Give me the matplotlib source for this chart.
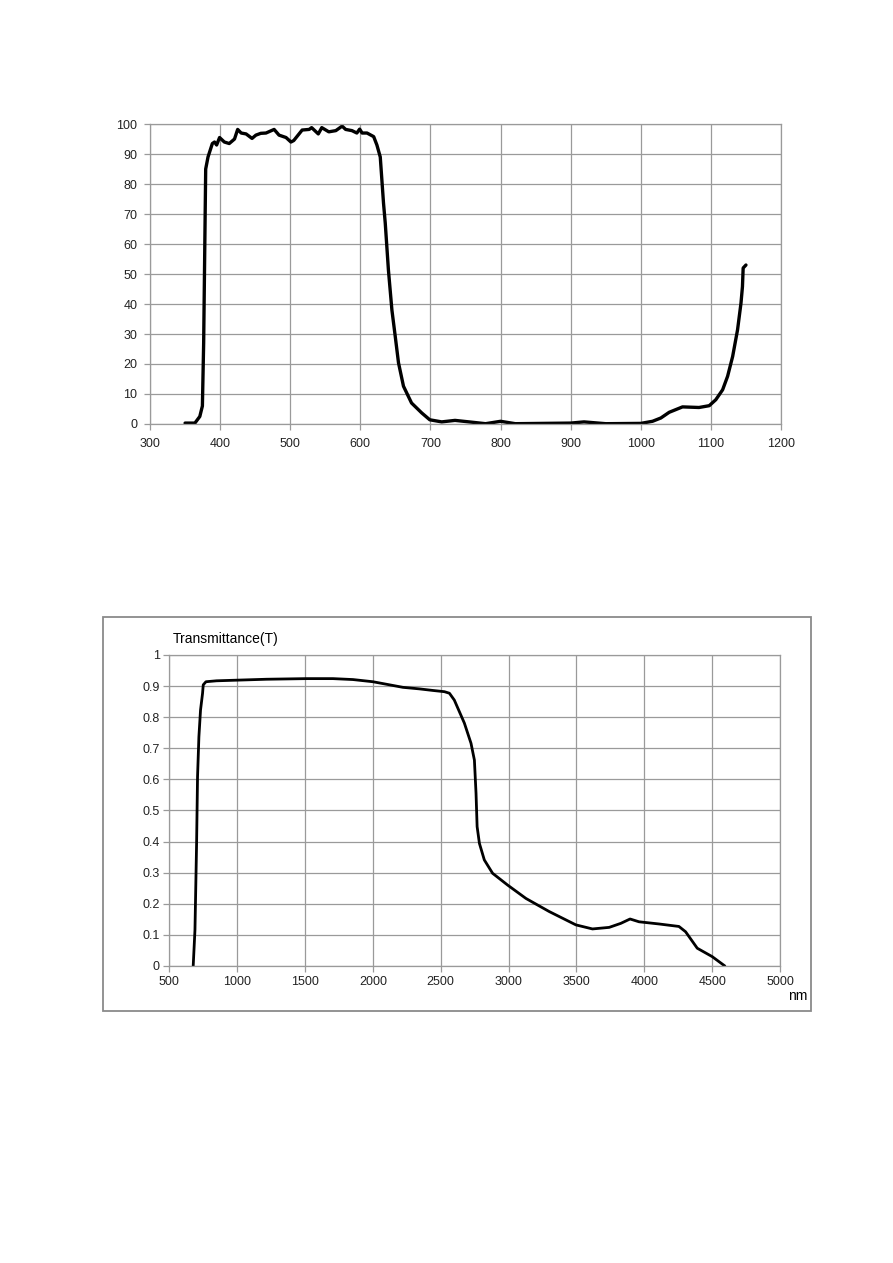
import matplotlib
matplotlib.use("Agg")
import matplotlib.pyplot as plt
from matplotlib.patches import Rectangle
from matplotlib.ticker import FuncFormatter

plt.rcParams['font.family'] = ['Liberation Sans', 'DejaVu Sans']

# top chart: visible band filter, transmittance in %
vis_nm = [350, 364, 371, 374.7, 376.5, 379.4, 382.7, 388.9, 392, 395, 399.2, 406, 413,
          420.5, 425, 430, 437, 445.5, 451, 458, 465.4, 477, 484, 494, 501, 505, 517,
          527, 530.5, 540, 545, 555, 565, 574, 579, 588, 595, 599, 602.5, 609.5, 619,
          623.6, 628.4, 633, 635.5, 640, 645, 649.7, 654.4, 661.5, 673, 687.5, 699, 716,
          735, 759, 778.6, 800, 821, 860, 900, 919, 950, 1000, 1016.7, 1028.6, 1040.5,
          1059.5, 1083, 1097.6, 1107, 1116.7, 1123.8, 1131, 1138, 1142.9, 1145, 1146, 1150]
vis_t = [0.3, 0.3, 2.5, 6, 27, 85, 89, 93.5, 94, 93, 95.5, 94, 93.5,
         95, 98.2, 97, 96.7, 95.2, 96.3, 96.9, 97, 98.2, 96.3, 95.5, 94, 94.5, 98,
         98.2, 98.8, 96.7, 98.8, 97.4, 97.8, 99.3, 98.2, 97.8, 97, 98.3, 97, 97, 95.8,
         93, 89, 73.7, 67, 51.4, 38, 29.3, 20.4, 12.6, 7, 3.7, 1.4, 0.7,
         1.2, 0.6, 0.1, 0.9, 0.1, 0.2, 0.3, 0.7, 0.1, 0.2, 0.9, 2, 3.9,
         5.7, 5.5, 6.1, 8.1, 11.4, 15.9, 22.5, 31.4, 40.3, 45.8, 52, 53]

# bottom chart: IR window, transmittance as fraction
ir_nm = [676, 689, 701, 708, 718, 730, 745, 750, 770, 848, 995, 1216, 1510, 1706, 1853,
         2000, 2123, 2221, 2343, 2441, 2527, 2564, 2600, 2640, 2674, 2723, 2748, 2760,
         2768, 2785, 2821, 2882, 2993, 3128, 3299, 3496, 3618, 3741, 3827, 3895, 3961,
         4108, 4255, 4304, 4390, 4500, 4593]
ir_t = [0, 0.116, 0.394, 0.609, 0.737, 0.823, 0.877, 0.904, 0.914, 0.917, 0.919, 0.922,
        0.924, 0.924, 0.921, 0.914, 0.904, 0.896, 0.891, 0.886, 0.882, 0.877, 0.855,
        0.815, 0.781, 0.716, 0.662, 0.555, 0.448, 0.394, 0.341, 0.298, 0.260, 0.217,
        0.175, 0.132, 0.119, 0.124, 0.137, 0.151, 0.142, 0.135, 0.127, 0.110, 0.057,
        0.030, 0]

grid_col = '#9a9a9a'

fig = plt.figure(figsize=(8.93, 12.63), dpi=100)


def style_axes(ax, fs):
    for s in ax.spines.values():
        s.set_color(grid_col)
        s.set_linewidth(0.9)
    ax.grid(True, color=grid_col, linewidth=0.9)
    ax.set_axisbelow(True)
    ax.tick_params(length=4, width=0.9, color=grid_col, labelsize=fs,
                   labelcolor='#222222', pad=3)


# top
ax1 = fig.add_axes([0.168, 0.6643, 0.7066, 0.2375])
ax1.plot(vis_nm, vis_t, color='black', lw=2.4, solid_capstyle='round')
ax1.set_xlim(300, 1200)
ax1.set_ylim(0, 100)
ax1.set_xticks(range(300, 1201, 100))
ax1.set_yticks(range(0, 101, 10))
style_axes(ax1, 9)
ax1.tick_params(axis='x', pad=6)
ax1.tick_params(axis='y', pad=5)

# bottom, with outer frame
fig.patches.append(Rectangle((0.1153, 0.1995), 0.7929, 0.312, transform=fig.transFigure,
                             fill=False, edgecolor='#8a8a8a', linewidth=1.3))
ax2 = fig.add_axes([0.1896, 0.2352, 0.6839, 0.2462])
ax2.plot(ir_nm, ir_t, color='black', lw=2.0, solid_capstyle='round')
ax2.set_xlim(500, 5000)
ax2.set_ylim(0, 1)
ax2.set_xticks(range(500, 5001, 500))
ax2.set_yticks([i / 10 for i in range(11)])
ax2.yaxis.set_major_formatter(FuncFormatter(lambda v, p: f'{v:g}'))
style_axes(ax2, 9)
fig.text(173 / 893, 1 - 639 / 1263, 'Transmittance(T)', fontsize=10, va='center', ha='left')
fig.text(807 / 893, 1 - 996 / 1263, 'nm', fontsize=10, va='center', ha='right')

fig.savefig('out.png', dpi=100)
